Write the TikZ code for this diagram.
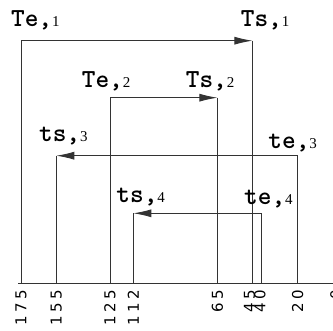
\documentclass[tikz,border=0pt]{standalone}
\usepackage{fontspec}
\usetikzlibrary{arrows.meta}
\newfontfamily\subfont{Liberation Serif}
\newfontfamily\tickfont{DejaVu Sans}[LetterSpace=23]
% interval label: bold typewriter name followed by a small index
\newcommand\ivlabel[2]{{\ttfamily\bfseries\addfontfeature{FakeBold=1.2}\fontsize{26}{26}\selectfont #1,}{\subfont\fontsize{15}{15}\selectfont #2}}
\begin{document}
\begin{tikzpicture}[x=1pt,y=-1pt,
  wire/.style={draw=black!80, line width=0.9pt},
  flow/.style={wire, -{Latex[length=18pt,width=8pt]}},
  ivname/.style={anchor=base west, inner sep=0pt},
  ticklbl/.style={rotate=90, anchor=east, inner sep=0pt,
    font=\tickfont\fontsize{15}{15}\selectfont}]
\useasboundingbox (0,0) rectangle (333,331);

% time axis
\coordinate (axL) at (18,283);
\coordinate (axR) at (340,283);
\draw[wire] (axL) -- (axR);

% points on the axis
\foreach \v/\x in {175/21, 155/56.3, 125/110, 112/133.4, 65/217.4, 45/249.5, 40/260, 20/297.7, 0/336}{
  \coordinate (p\v) at (\x,283);
  \node[ticklbl] (n\v) at (\x,289.5) {\v};
}

% interval 1
\coordinate (c1a) at (21,40.7);
\coordinate (c1b) at (252.4,40.7);
\draw[wire] (p175) -- (c1a);
\draw[flow] (c1a) -- (c1b);
\draw[wire] (c1b) -- (c1b |- p45);

% interval 2
\coordinate (c2a) at (110,97.7);
\coordinate (c2b) at (217.4,97.7);
\draw[wire] (p125) -- (c2a);
\draw[flow] (c2a) -- (c2b);
\draw[wire] (c2b) -- (p65);

% interval 3
\coordinate (c3a) at (297.7,155.7);
\coordinate (c3b) at (56.3,155.7);
\draw[wire] (p20) -- (c3a);
\draw[flow] (c3a) -- (c3b);
\draw[wire] (c3b) -- (p155);

% interval 4
\coordinate (c4a) at (261.5,213.3);
\coordinate (c4b) at (133.4,213.3);
\draw[wire] (c4a |- p40) -- (c4a);
\draw[flow] (c4a) -- (c4b);
\draw[wire] (c4b) -- (p112);

% labels
\node[ivname] (te1) at (11,26.7)    {\ivlabel{Te}{1}};
\node[ivname] (ts1) at (240.7,26.7) {\ivlabel{Ts}{1}};
\node[ivname] (te2) at (81.7,87.3)  {\ivlabel{Te}{2}};
\node[ivname] (ts2) at (185.7,87.3) {\ivlabel{Ts}{2}};
\node[ivname] (ts3) at (39,141.7)   {\ivlabel{ts}{3}};
\node[ivname] (te3) at (268.3,148.3){\ivlabel{te}{3}};
\node[ivname] (ts4) at (116.3,202.7){\ivlabel{ts}{4}};
\node[ivname] (te4) at (244,205)    {\ivlabel{te}{4}};
\end{tikzpicture}
\end{document}
